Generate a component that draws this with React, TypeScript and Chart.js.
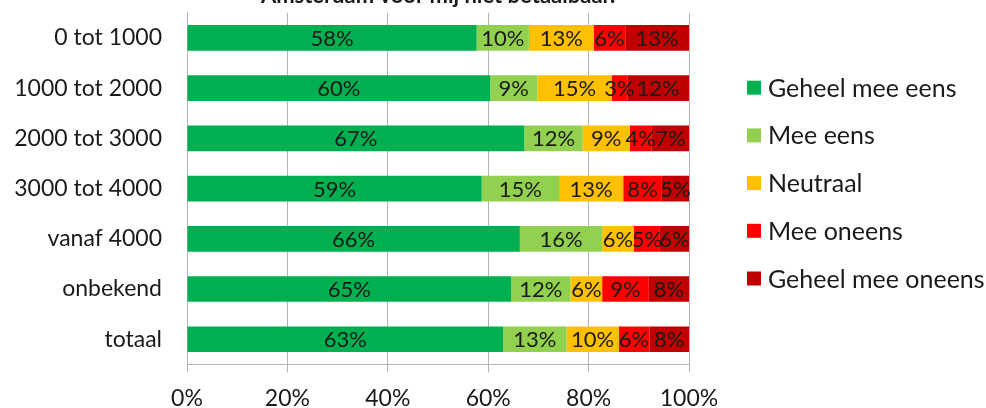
import React, { useEffect, useRef } from 'react';
import { Chart, registerables } from 'chart.js';
Chart.register(...registerables);

const titleText = 'Amsterdam voor mij niet betaalbaar.';
const categories = ['0 tot 1000', '1000 tot 2000', '2000 tot 3000', '3000 tot 4000', 'vanaf 4000', 'onbekend', 'totaal'];
const seriesNames = ['Geheel mee eens', 'Mee eens', 'Neutraal', 'Mee oneens', 'Geheel mee oneens'];
const seriesColors = ['#00B050', '#92D050', '#FFC000', '#FF0000', '#C00000'];
const geheelMeeEens = [57.7, 60.4, 67.2, 58.7, 66.3, 64.6, 63.0];
const meeEens = [10.4, 9.4, 11.6, 15.4, 16.4, 11.8, 12.6];
const neutraal = [12.9, 14.8, 9.4, 12.8, 6.3, 6.3, 10.4];
const meeOneens = [6.3, 3.1, 4.4, 7.7, 5.2, 9.3, 6.1];
const geheelMeeOneens = [12.7, 12.3, 7.4, 5.4, 5.8, 8.0, 7.9];
const xTicks = [0, 20, 40, 60, 80, 100];

const FONT = 'Lato';
const TEXT = '#1a1a1a';
const GRID = '#b3b3b3';

const dataLabels = {
  id: 'dataLabels',
  afterDatasetsDraw(chart: any) {
    const ctx = chart.ctx;
    ctx.save();
    ctx.font = `22px ${FONT}`;
    ctx.fillStyle = TEXT;
    ctx.textAlign = 'center';
    ctx.textBaseline = 'middle';
    chart.data.datasets.forEach((ds: any, i: number) => {
      const meta = chart.getDatasetMeta(i);
      meta.data.forEach((el: any, j: number) => {
        const v = ds.data[j] as number;
        ctx.fillText(Math.round(v) + '%', (el.x + el.base) / 2, el.y + 1);
      });
    });
    ctx.restore();
  },
};

const sideLegend = {
  id: 'sideLegend',
  afterDraw(chart: any) {
    const ctx = chart.ctx;
    const area = chart.chartArea;
    const n = chart.data.datasets.length;
    const spacing = 47.7;
    const cy = (area.top + area.bottom) / 2 - 5.5;
    const x0 = area.right + 58;
    ctx.save();
    ctx.font = `25px ${FONT}`;
    ctx.textAlign = 'left';
    ctx.textBaseline = 'middle';
    chart.data.datasets.forEach((ds: any, i: number) => {
      const y = cy + (i - (n - 1) / 2) * spacing;
      ctx.fillStyle = ds.backgroundColor;
      ctx.fillRect(x0, y - 7, 14, 14);
      ctx.fillStyle = TEXT;
      ctx.fillText(ds.label, x0 + 21, y + 1);
    });
    ctx.restore();
  },
};

export default function App() {
  const ref = useRef<HTMLCanvasElement>(null);
  useEffect(() => {
    let chart: Chart | null = null;
    let dead = false;
    const make = () => {
      if (dead || !ref.current) return;
      const values = [geheelMeeEens, meeEens, neutraal, meeOneens, geheelMeeOneens];
      chart = new Chart(ref.current, {
        type: 'bar',
        data: {
          labels: categories,
          datasets: seriesNames.map((name, i) => ({
            label: name,
            data: values[i],
            backgroundColor: seriesColors[i],
            borderWidth: 0,
            barPercentage: 0.51,
            categoryPercentage: 1,
          })),
        },
        options: {
          indexAxis: 'y',
          animation: false,
          responsive: true,
          maintainAspectRatio: false,
          layout: { padding: { left: 0, right: 297, top: 0, bottom: 0 } },
          plugins: {
            legend: { display: false },
            tooltip: { enabled: false },
            title: {
              display: true,
              text: titleText,
              fullSize: false,
              color: TEXT,
              font: { family: FONT, size: 22, weight: 'bold', lineHeight: 1.2 },
              padding: { top: 2, bottom: 4 },
            },
          },
          scales: {
            x: {
              stacked: true,
              min: 0,
              max: 100,
              afterBuildTicks: (s: any) => {
                s.ticks = xTicks.map((v) => ({ value: v }));
              },
              ticks: {
                callback: (v: any) => v + '%',
                color: TEXT,
                font: { family: FONT, size: 23 },
                padding: 12,
                maxRotation: 0,
              },
              grid: { color: GRID, lineWidth: 1, tickLength: 8, drawTicks: true },
              border: { display: true, color: GRID, width: 1 },
            },
            y: {
              stacked: true,
              afterFit: (s: any) => {
                s.width = 187;
              },
              ticks: {
                color: TEXT,
                font: { family: FONT, size: 23 },
                padding: 25,
              },
              grid: { display: false, drawTicks: false },
              border: { display: true, color: GRID, width: 1 },
            },
          },
        },
        plugins: [dataLabels, sideLegend],
      });
    };
    const fonts: any = (document as any).fonts;
    if (fonts && fonts.load) {
      Promise.all([fonts.load(`23px ${FONT}`), fonts.load(`bold 22px ${FONT}`)]).then(make, make);
    } else make();
    return () => {
      dead = true;
      if (chart) chart.destroy();
    };
  }, []);
  return (
    <div style={{ position: 'fixed', left: 0, top: -26, width: 986, height: 450, background: '#fff' }}>
      <canvas ref={ref} />
    </div>
  );
}
